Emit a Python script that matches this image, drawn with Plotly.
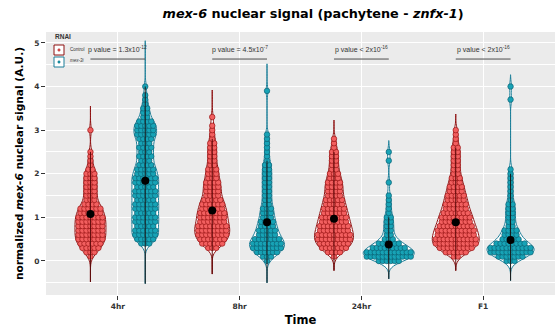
import numpy as np
import plotly.graph_objects as go

# ---------------- data ----------------
times = ["4hr", "8hr", "24hr", "F1"]
rnai = ["Control", "mex-3i"]

# dot-plot bins (signal value of each dot row)
bins = [0.0, 0.1, 0.2, 0.3, 0.4, 0.5, 0.6, 0.7, 0.8, 0.9,
        1.0, 1.1, 1.2, 1.3, 1.4, 1.5, 1.6, 1.7, 1.8, 1.9,
        2.0, 2.1, 2.2, 2.3, 2.4, 2.5, 2.6, 2.7, 2.8, 2.9,
        3.0, 3.1, 3.2, 3.3, 3.4, 3.5, 3.6, 3.7, 3.8, 3.9, 4.0]

# number of nuclei per bin (starting at bin 0.0)
ctrl_4hr = [0, 1, 3, 5, 6, 7, 7, 7, 7, 7, 7, 6, 6, 4, 3, 3, 3, 3, 3, 3, 3, 2, 1, 1, 1, 1, 0, 0, 0, 0, 1]
mex3_4hr = [0, 0, 0, 0, 3, 5, 6, 6, 5, 6, 6, 5, 6, 6, 5, 6, 6, 5, 6, 6, 5, 5, 4, 3, 4, 3, 4, 3, 4, 5,
            5, 5, 4, 2, 2, 2, 1, 1, 1, 0, 1]
ctrl_8hr = [0, 0, 0, 3, 6, 7, 8, 8, 8, 7, 7, 7, 6, 6, 5, 4, 4, 4, 4, 3, 3, 3, 2, 2, 2, 2, 2, 2, 1, 1,
            1, 1, 0, 1]
mex3_8hr = [1, 3, 6, 8, 8, 7, 5, 5, 4, 4, 3, 3, 3, 2, 2, 2, 2, 2, 2, 2, 2, 2, 2, 1, 1, 1, 1, 1, 1, 1,
            0, 0, 0, 0, 0, 0, 0, 0, 0, 1]
ctrl_24hr = [0, 1, 4, 7, 8, 9, 9, 8, 8, 7, 7, 6, 6, 5, 5, 4, 4, 4, 4, 3, 3, 2, 2, 2, 2, 2, 1, 1, 1]
mex3_24hr = [6, 12, 12, 9, 6, 3, 2, 2, 2, 2, 2, 1, 1, 1, 1, 1, 0, 0, 1, 0, 0, 0, 0, 1, 0, 1]
ctrl_F1 = [0, 2, 6, 9, 11, 11, 10, 10, 9, 8, 8, 7, 6, 6, 5, 5, 4, 4, 3, 3, 2, 2, 2, 2, 2, 2, 2, 1, 1, 1, 1]
mex3_F1 = [3, 7, 11, 11, 8, 5, 4, 4, 2, 2, 2, 2, 2, 2, 1, 1, 1, 1, 1, 1, 1, 1, 0, 0, 0, 0, 0, 0, 0, 0,
           0, 0, 0, 0, 0, 0, 0, 1, 0, 0, 1]

means_ctrl = [1.08, 1.16, 0.97, 0.89]
means_mex3 = [1.84, 0.89, 0.38, 0.48]

# violin extent (thin tails) and upper whisker
tail_lo_ctrl = [-0.48, -0.30, -0.22, -0.22]
tail_hi_ctrl = [3.55, 3.92, 3.23, 3.37]
tail_lo_mex3 = [-0.52, -0.50, -0.41, -0.45]
tail_hi_mex3 = [5.05, 4.52, 2.76, 4.27]
whisk_hi_ctrl = [2.5, 2.8, 2.5, 2.6]
whisk_hi_mex3 = [4.0, 2.3, 1.0, 2.0]

p_labels = ["p value = 1.3x10<sup>-12</sup>", "p value = 4.5x10<sup>-7</sup>",
            "p value &lt; 2x10<sup>-16</sup>", "p value &lt; 2x10<sup>-16</sup>"]

# ---------------- styling ----------------
FONT = "Liberation Sans"
TFONT = "DejaVu Sans"
W, H = 556, 331
ML, MR, MT, MB = 46, 1, 32, 36
PW, PH = W - ML - MR, H - MT - MB
XR = [0.41, 4.59]
YR = [-0.78, 5.25]
PX_PER_X = PW / (XR[1] - XR[0])
DOT_DX = 4.0 / PX_PER_X
DODGE = 0.225

fill_col = {"Control": "#F25F5F", "mex-3i": "#17A3B6"}
edge_col = {"Control": "#9A1414", "mex-3i": "#0B6174"}
vio_col = {"Control": "#8E1010", "mex-3i": "#1C7F99"}
whisk_col = {"Control": "#5C0B0B", "mex-3i": "#1A1A1A"}

counts = {"Control": [ctrl_4hr, ctrl_8hr, ctrl_24hr, ctrl_F1],
          "mex-3i": [mex3_4hr, mex3_8hr, mex3_24hr, mex3_F1]}
means = {"Control": means_ctrl, "mex-3i": means_mex3}
tail_lo = {"Control": tail_lo_ctrl, "mex-3i": tail_lo_mex3}
tail_hi = {"Control": tail_hi_ctrl, "mex-3i": tail_hi_mex3}
whisk_hi = {"Control": whisk_hi_ctrl, "mex-3i": whisk_hi_mex3}
offset = {"Control": -DODGE, "mex-3i": DODGE}

fig = go.Figure()

# violins
for g in rnai:
    for i, t in enumerate(times):
        c = counts[g][i]
        vals = np.repeat(np.array(bins[:len(c)]), c)
        nmax = max(c)
        width_px = (nmax - 1) * 4.0 + 7.0
        fig.add_trace(go.Violin(
            y=vals, x0=i + 1 + offset[g], width=width_px / PX_PER_X,
            spanmode="manual", span=[tail_lo[g][i], tail_hi[g][i]],
            bandwidth=0.11, points=False, fillcolor="white",
            line=dict(color=vio_col[g], width=1),
            showlegend=False, hoverinfo="skip"))

# dots (centred dot-plot rows)
for g in rnai:
    xs, ys = [], []
    for i, t in enumerate(times):
        c = counts[g][i]
        for b, n in zip(bins, c):
            for k in range(n):
                xs.append(i + 1 + offset[g] + (k - (n - 1) / 2.0) * DOT_DX)
                ys.append(b)
    fig.add_trace(go.Scatter(
        x=xs, y=ys, mode="markers", showlegend=False, hoverinfo="skip",
        marker=dict(symbol="circle", size=5.5, color=fill_col[g],
                    line=dict(color=edge_col[g], width=0.7))))

# whiskers
for g in rnai:
    for i, t in enumerate(times):
        xp = i + 1 + offset[g]
        fig.add_trace(go.Scatter(
            x=[xp, xp], y=[tail_lo[g][i], whisk_hi[g][i]], mode="lines",
            line=dict(color=whisk_col[g], width=1), showlegend=False, hoverinfo="skip"))

# means
for g in rnai:
    fig.add_trace(go.Scatter(
        x=[i + 1 + offset[g] for i in range(len(times))], y=means[g], mode="markers",
        marker=dict(color="black", size=8), showlegend=False, hoverinfo="skip"))

# p value annotations
for i, lab in enumerate(p_labels):
    fig.add_shape(type="line", xref="x", yref="y", x0=i + 1 - DODGE, x1=i + 1 + DODGE,
                  y0=4.63, y1=4.63, line=dict(color="#4d4d4d", width=1))
    fig.add_annotation(x=i + 1, y=4.84, xref="x", yref="y", text=lab, showarrow=False,
                       font=dict(family=FONT, size=7, color="#333333"))

# legend (drawn inside the panel, top-left)
def px(xp):
    return (xp - ML) / PW

def py(yp):
    return 1 - (yp - MT) / PH

fig.add_annotation(x=px(53), y=py(36.5), xref="paper", yref="paper", xanchor="left",
                   yanchor="middle", text="RNAI", showarrow=False,
                   font=dict(family=FONT, size=6.5, color="#333", weight="bold"))
leg_labels = ["Control", "<i>mex-3i</i>"]
for j, g in enumerate(rnai):
    yc = 50 + 12 * j
    fig.add_shape(type="rect", xref="paper", yref="paper",
                  x0=px(54), x1=px(64), y0=py(yc - 5), y1=py(yc + 5),
                  fillcolor="white", line=dict(color=vio_col[g], width=1))
    fig.add_shape(type="circle", xref="paper", yref="paper",
                  x0=px(57.8), x1=px(60.2), y0=py(yc - 1.2), y1=py(yc + 1.2),
                  fillcolor=fill_col[g], line=dict(color=edge_col[g], width=0.5))
    fig.add_annotation(x=px(68), y=py(yc - 1), xref="paper", yref="paper", xanchor="left",
                       yanchor="middle", text=leg_labels[j], showarrow=False,
                       font=dict(family=FONT, size=4.5, color="#333"))

fig.update_layout(
    width=W, height=H, margin=dict(l=ML, r=MR, t=MT, b=MB),
    paper_bgcolor="white", plot_bgcolor="#EBEBEB", violinmode="overlay",
    showlegend=False,
    title=dict(text="<i>mex-6</i> nuclear signal (pachytene - <i>znfx-1</i>)",
               x=0.563, xref="container", xanchor="center",
               y=1 - 14 / H, yref="container", yanchor="middle",
               font=dict(family=TFONT, size=12.8, color="black", weight="bold")),
    xaxis=dict(type="linear", range=XR, tickmode="array", tickvals=[1, 2, 3, 4],
               ticktext=times, showgrid=True, gridcolor="white", gridwidth=1.2,
               zeroline=False, ticks="outside", ticklen=4, tickcolor="#333",
               tickfont=dict(family=TFONT, size=7.5, color="#333", weight="bold"),
               title=dict(text="Time", standoff=5,
                          font=dict(family=TFONT, size=11.5, color="black", weight="bold"))),
    yaxis=dict(range=YR, tickmode="array", tickvals=[0, 1, 2, 3, 4, 5],
               showgrid=True, gridcolor="white", gridwidth=1.2, zeroline=False,
               ticks="outside", ticklen=4, tickcolor="#333",
               tickfont=dict(family=TFONT, size=7.5, color="#333", weight="bold"),
               minor=dict(tickmode="array", tickvals=[-0.5, 0.5, 1.5, 2.5, 3.5, 4.5],
                          showgrid=True, gridcolor="white", gridwidth=0.6, ticks=""),
               title=dict(text="normalized <i>mex-6</i> nuclear signal (A.U.)", standoff=8,
                          font=dict(family=TFONT, size=10.6, color="black", weight="bold"))),
)

fig.write_html("out.html")
